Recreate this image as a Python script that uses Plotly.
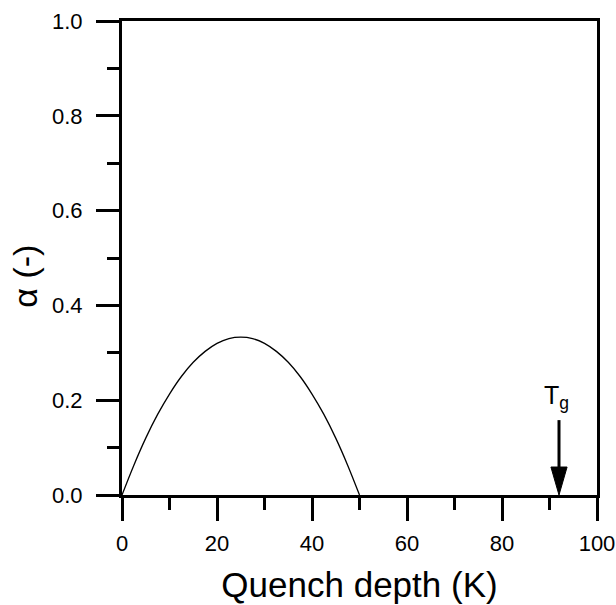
import plotly.graph_objects as go

# Fraction alpha versus quench depth
quench_depth = [0, 2.5, 5, 7.5, 10, 12.5, 15, 17.5, 20, 22.5, 25, 27.5, 30, 32.5, 35, 37.5, 40, 42.5, 45, 47.5, 50]
alpha = [0.0, 0.063, 0.12, 0.17, 0.213, 0.25, 0.28, 0.303, 0.32, 0.33, 0.333, 0.33, 0.32, 0.303, 0.28, 0.25, 0.213, 0.17, 0.12, 0.063, 0.0]

tg_depth = 92
tg_arrow_top = 0.158

x_ticks = [0, 20, 40, 60, 80, 100]
y_ticks = [0.0, 0.2, 0.4, 0.6, 0.8, 1.0]

font_family = "Liberation Sans, Arial, sans-serif"

fig = go.Figure()
fig.add_trace(go.Scatter(
    x=quench_depth, y=alpha, mode="lines",
    line=dict(color="black", width=1.3, shape="spline"),
    showlegend=False, hoverinfo="skip",
))

axis_common = dict(
    showline=True, linecolor="black", linewidth=3, mirror=True,
    showgrid=False, zeroline=False, automargin=False,
    ticks="outside", ticklen=23, tickwidth=3, tickcolor="black",
    tickfont=dict(family=font_family, size=22, color="black"),
)

fig.update_xaxes(
    range=[0, 100], tickvals=x_ticks, ticktext=[str(v) for v in x_ticks],
    minor=dict(ticks="outside", ticklen=12, tickwidth=3, tickcolor="black", dtick=10, tick0=0),
    ticklabelstandoff=4,
    title=dict(text="Quench depth (K)", font=dict(family=font_family, size=35, color="black"), standoff=18),
    **axis_common,
)
fig.update_yaxes(
    range=[0, 1], tickvals=y_ticks, ticktext=[f"{v:.1f}" for v in y_ticks],
    minor=dict(ticks="outside", ticklen=12, tickwidth=3, tickcolor="black", dtick=0.1, tick0=0),
    ticklabelstandoff=9,
    **axis_common,
)

# y-axis label, placed as a rotated annotation
fig.add_annotation(
    x=-0.205, y=0.462, xref="paper", yref="paper",
    text="α (-)", textangle=-90, showarrow=False,
    xanchor="center", yanchor="middle",
    font=dict(family=font_family, size=34, color="black"),
)

# Glass transition marker: shaft plus a narrow filled head
head_len = 0.059   # in alpha units
head_half = 1.7    # in K units
fig.add_shape(
    type="line", xref="x", yref="y",
    x0=tg_depth, x1=tg_depth, y0=tg_arrow_top, y1=head_len * 0.5,
    line=dict(color="black", width=3),
)
fig.add_shape(
    type="path", xref="x", yref="y",
    path=(f"M {tg_depth - head_half} {head_len} L {tg_depth + head_half} {head_len} "
          f"L {tg_depth} 0 Z"),
    fillcolor="black", line=dict(color="black", width=1),
)
fig.add_annotation(
    x=tg_depth, y=tg_arrow_top, xref="x", yref="y",
    text="T<sub>g</sub>", showarrow=False, yanchor="bottom", yshift=5, xshift=-3,
    font=dict(family=font_family, size=25, color="black"),
)

fig.update_layout(
    width=616, height=605,
    margin=dict(l=122, r=19, t=21, b=110),
    paper_bgcolor="white", plot_bgcolor="white",
)

fig.write_html("out.html")
